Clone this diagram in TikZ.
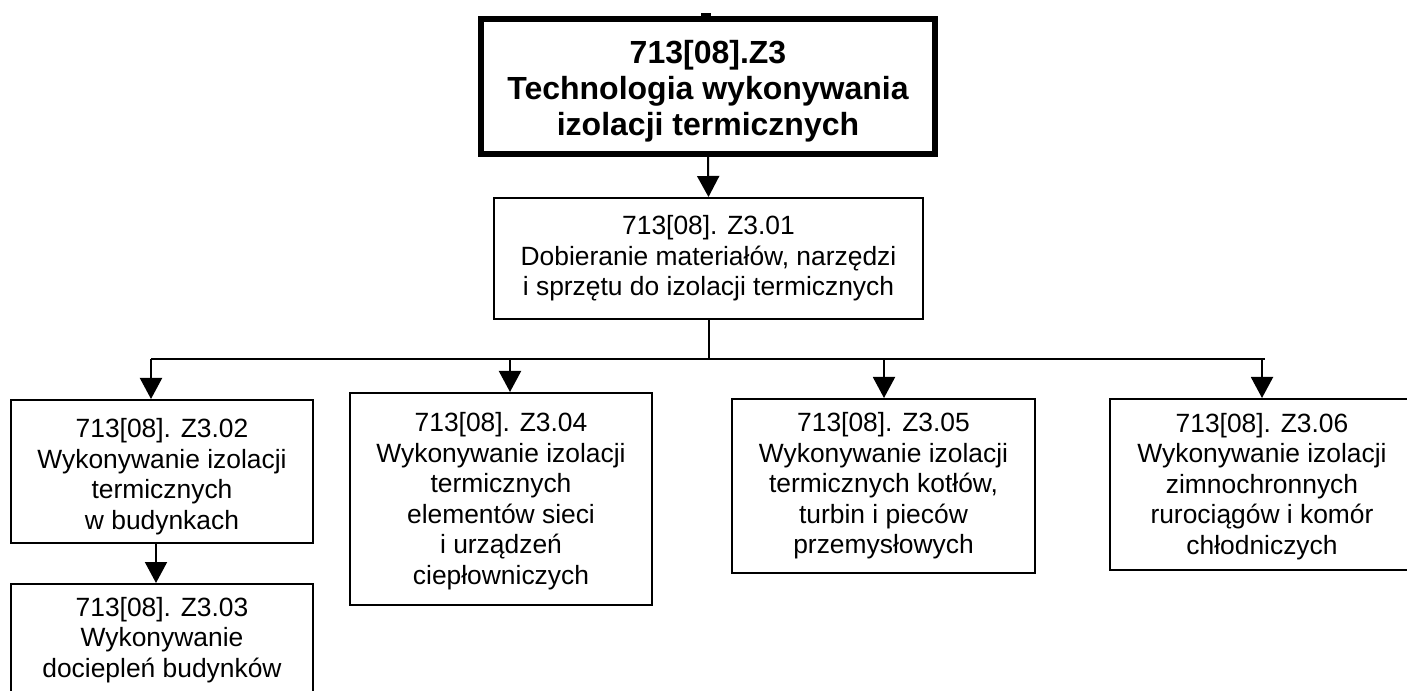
\documentclass[tikz,border=0pt]{standalone}
\usepackage{fontspec}
\setmainfont{Liberation Sans}
\usetikzlibrary{arrows.meta}
% invisible strut that sets the height of a first text line
\newcommand{\firstlinestrut}[1]{\rule{0pt}{#1}}
\begin{document}
\begin{tikzpicture}[x=0.75pt,y=-0.75pt,
  unitbox/.style={draw, line width=1.5pt, inner sep=0pt, align=center,
    font=\fontsize{19.8}{22.9}\selectfont},
  mainbox/.style={draw, line width=4.5pt, inner sep=0pt, align=center,
    font=\fontsize{24}{27}\selectfont\bfseries},
  link/.style={line width=1.5pt},
  arr/.style={line width=1.5pt, -{Triangle[length=15.75pt,width=16.5pt]}}]
  \useasboundingbox (0,0) rectangle (1407,691);
  \fill[white] (0,0) rectangle (1407,691);
  \clip (0,0) rectangle (1407,691);

  % module
  \node[mainbox, minimum width=340.5pt, minimum height=101.25pt] (top) at (708,86.5)
    {\firstlinestrut{23.8pt}713[08].Z3\\Technologia wykonywania\\izolacji termicznych};
  \fill (701,13.5) rectangle (711,17);

  % units
  \node[unitbox, minimum width=321.75pt, minimum height=90.75pt] (b01) at (708.5,258.5)
    {713[08]. Z3.01\\Dobieranie materiałów, narzędzi\\i sprzętu do izolacji termicznych};
  \node[unitbox, minimum width=226.5pt, minimum height=107.25pt] (b02) at (162,471.5)
    {\firstlinestrut{21.9pt}713[08]. Z3.02\\Wykonywanie izolacji\\termicznych\\w budynkach};
  \node[unitbox, minimum width=226.5pt, minimum height=84pt] (b03) at (162,640)
    {713[08]. Z3.03\\Wykonywanie\\dociepleń budynków};
  \node[unitbox, minimum width=226.5pt, minimum height=159pt] (b04) at (501,499)
    {\firstlinestrut{17.4pt}713[08]. Z3.04\\Wykonywanie izolacji\\termicznych\\elementów sieci\\i urządzeń\\ciepłowniczych};
  \node[unitbox, minimum width=227.25pt, minimum height=130.5pt] (b05) at (883.5,486)
    {713[08]. Z3.05\\Wykonywanie izolacji\\termicznych kotłów,\\turbin i pieców\\przemysłowych};
  \node[unitbox, minimum width=228pt, minimum height=128.25pt] (b06) at (1262,484.5)
    {\firstlinestrut{17.4pt}713[08]. Z3.06\\Wykonywanie izolacji\\zimnochronnych\\rurociągów i komór\\chłodniczych};

  % distribution bus
  \coordinate (busL) at (151,359);
  \coordinate (busR) at (1265,359);
  \coordinate (t04) at (510,359);
  \coordinate (t05) at (884,359);
  \coordinate (t06) at (1262,359);
  \coordinate (c23) at (156,543);

  \draw[arr] (top.south) -- (b01.north);
  \draw[link] (b01.south) -- (b01.south |- busL);
  \draw[link] (busL) -- (busR);
  \draw[arr] (busL) -- (busL |- b02.north);
  \draw[arr] (t04) -- (t04 |- b04.north);
  \draw[arr] (t05) -- (t05 |- b05.north);
  \draw[arr] (t06) -- (t06 |- b06.north);
  \draw[arr] (c23) -- (c23 |- b03.north);
\end{tikzpicture}
\end{document}
